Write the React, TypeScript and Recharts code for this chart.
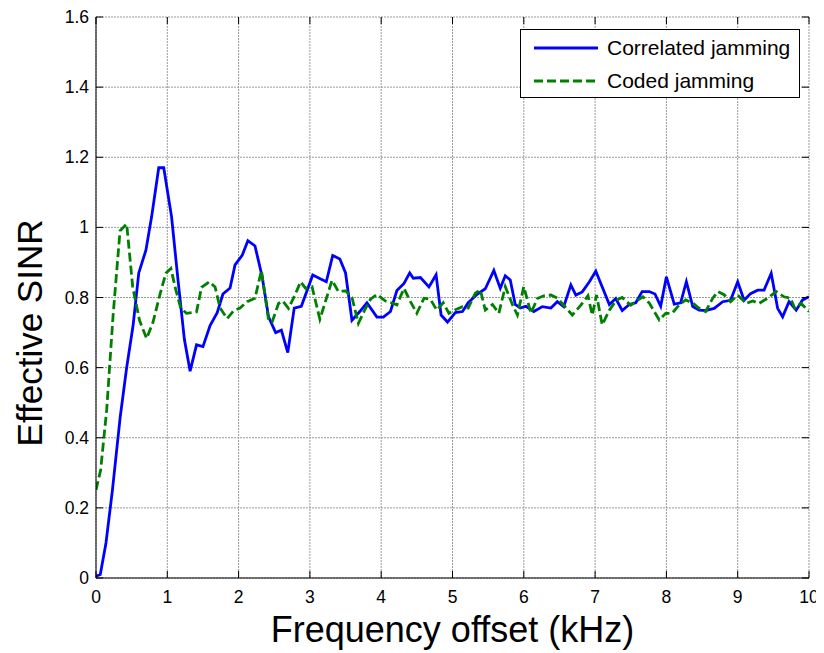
import { LineChart, Line, XAxis, YAxis, CartesianGrid } from "recharts";

// 曲線の頂点（周波数 kHz）と実効SINR
const corrFreq = [
  0, 0.06, 0.14, 0.23, 0.34, 0.43, 0.52, 0.6, 0.7, 0.78, 0.88, 0.95, 1.06, 1.15, 1.24, 1.32, 1.41, 1.5,
  1.6, 1.7, 1.78, 1.88, 1.95, 2.05, 2.13, 2.23, 2.33, 2.42, 2.52, 2.6, 2.69, 2.78, 2.88, 3.04, 3.13,
  3.23, 3.32, 3.42, 3.5, 3.59, 3.7, 3.8, 3.94, 4.03, 4.13, 4.22, 4.32, 4.4, 4.45, 4.55, 4.67, 4.77,
  4.84, 4.93, 5.04, 5.14, 5.22, 5.35, 5.46, 5.58, 5.67, 5.74, 5.81, 5.88, 5.95, 6.03, 6.14, 6.26,
  6.38, 6.47, 6.56, 6.66, 6.73, 6.82, 6.92, 7.01, 7.1, 7.2, 7.29, 7.38, 7.48, 7.57, 7.66, 7.76, 7.84,
  7.92, 8.0, 8.11, 8.2, 8.28, 8.37, 8.46, 8.55, 8.67, 8.79, 8.9, 9.0, 9.09, 9.18, 9.28, 9.37, 9.47,
  9.56, 9.63, 9.72, 9.82, 9.91, 10.0,
];
const corrSinr = [
  0.005, 0.01, 0.1, 0.25, 0.46, 0.6, 0.72, 0.87, 0.935, 1.03, 1.17, 1.17, 1.03, 0.85, 0.68, 0.59, 0.665,
  0.66, 0.72, 0.757, 0.81, 0.827, 0.893, 0.92, 0.962, 0.947, 0.86, 0.745, 0.7, 0.707, 0.643, 0.77,
  0.775, 0.864, 0.855, 0.845, 0.92, 0.91, 0.87, 0.735, 0.76, 0.785, 0.744, 0.744, 0.76, 0.82, 0.84,
  0.87, 0.855, 0.857, 0.83, 0.865, 0.75, 0.73, 0.757, 0.76, 0.785, 0.81, 0.825, 0.877, 0.826, 0.862,
  0.85, 0.78, 0.77, 0.775, 0.76, 0.774, 0.77, 0.788, 0.774, 0.836, 0.807, 0.816, 0.845, 0.875, 0.83,
  0.78, 0.797, 0.763, 0.78, 0.785, 0.817, 0.817, 0.81, 0.775, 0.859, 0.781, 0.785, 0.845, 0.774,
  0.764, 0.763, 0.769, 0.788, 0.792, 0.845, 0.792, 0.811, 0.821, 0.821, 0.869, 0.769, 0.745, 0.788,
  0.764, 0.793, 0.802,
];

const codedFreq = [
  0, 0.065, 0.15, 0.24, 0.337, 0.43, 0.515, 0.61, 0.71, 0.8, 0.9, 0.98, 1.05, 1.12, 1.19, 1.27, 1.41,
  1.48, 1.59, 1.67, 1.74, 1.84, 1.93, 2.02, 2.12, 2.23, 2.32, 2.42, 2.47, 2.56, 2.62, 2.7, 2.79, 2.87,
  2.94, 3.03, 3.14, 3.22, 3.31, 3.4, 3.5, 3.59, 3.68, 3.77, 3.85, 3.94, 4.06, 4.14, 4.22, 4.32, 4.41,
  4.5, 4.6, 4.69, 4.78, 4.87, 4.95, 5.04, 5.14, 5.22, 5.32, 5.39, 5.46, 5.56, 5.65, 5.74, 5.84, 5.91,
  6.0, 6.1, 6.19, 6.28, 6.38, 6.47, 6.56, 6.68, 6.8, 6.9, 6.96, 7.02, 7.1, 7.2, 7.3, 7.38, 7.5, 7.58,
  7.67, 7.76, 7.9, 7.99, 8.08, 8.18, 8.27, 8.37, 8.46, 8.55, 8.65, 8.72, 8.81, 8.9, 9.0, 9.12, 9.21,
  9.3, 9.42, 9.54, 9.65, 9.74, 9.8, 9.89, 10.0,
];
const codedSinr = [
  0.251, 0.308, 0.48, 0.75, 0.99, 1.01, 0.83, 0.735, 0.683, 0.73, 0.811, 0.869, 0.883, 0.821, 0.769,
  0.755, 0.759, 0.829, 0.845, 0.83, 0.77, 0.74, 0.762, 0.77, 0.788, 0.798, 0.877, 0.736, 0.73, 0.783,
  0.79, 0.769, 0.807, 0.845, 0.826, 0.831, 0.738, 0.79, 0.849, 0.817, 0.819, 0.8, 0.726, 0.765, 0.795,
  0.809, 0.79, 0.785, 0.779, 0.826, 0.788, 0.755, 0.798, 0.795, 0.764, 0.785, 0.755, 0.765, 0.774,
  0.77, 0.812, 0.822, 0.764, 0.78, 0.755, 0.831, 0.78, 0.75, 0.831, 0.755, 0.797, 0.805, 0.807, 0.798,
  0.778, 0.75, 0.778, 0.805, 0.75, 0.807, 0.722, 0.764, 0.793, 0.8, 0.778, 0.79, 0.802, 0.784, 0.736,
  0.755, 0.755, 0.779, 0.793, 0.784, 0.769, 0.76, 0.798, 0.817, 0.808, 0.788, 0.807, 0.783, 0.79,
  0.783, 0.798, 0.817, 0.802, 0.798, 0.77, 0.783, 0.76,
];

const xTicks = [0, 1, 2, 3, 4, 5, 6, 7, 8, 9, 10];
const yTicks = [0, 0.2, 0.4, 0.6, 0.8, 1, 1.2, 1.4, 1.6];

const corrData = corrFreq.map((f, i) => ({ f, v: corrSinr[i] }));
const codedData = codedFreq.map((f, i) => ({ f, v: codedSinr[i] }));

const FONT = "'Liberation Sans', Arial, sans-serif";
const W = 816;
const H = 645;
const M = { top: 9, right: 15, left: 0, bottom: 0 };
const YW = 88;
const XH = 75;
const PL = YW;
const PR = W - M.right;
const PT = M.top;
const PB = H - XH;
const TICK = 7;

function YTick({ y, payload }: any) {
  return (
    <g>
      <text x={PL - 7} y={y} dy={6} textAnchor="end" fontSize={17.5} fontFamily={FONT} fill="#000">
        {String(payload.value)}
      </text>
      <line x1={PL} x2={PL + TICK} y1={y} y2={y} stroke="#000" />
      <line x1={PR - TICK} x2={PR} y1={y} y2={y} stroke="#000" />
    </g>
  );
}

function XTick({ x, payload }: any) {
  return (
    <g>
      <text x={x} y={PB + 25} textAnchor="middle" fontSize={17.5} fontFamily={FONT} fill="#000">
        {String(payload.value)}
      </text>
      <line x1={x} x2={x} y1={PB} y2={PB - TICK} stroke="#000" />
      <line x1={x} x2={x} y1={PT} y2={PT + TICK} stroke="#000" />
    </g>
  );
}

function LegendBox() {
  const rows = [
    { name: "Correlated jamming", color: "#0000ff", dash: undefined },
    { name: "Coded jamming", color: "#008000", dash: "9 4" },
  ];
  return (
    <div
      style={{
        position: "absolute",
        left: 512,
        top: 21,
        width: 278,
        height: 67,
        border: "1px solid #000",
        background: "#fff",
        fontFamily: FONT,
        fontSize: 21,
      }}
    >
      {rows.map((r, i) => (
        <div
          key={r.name}
          style={{ position: "absolute", left: 12, top: 6 + i * 33, height: 24, display: "flex", alignItems: "center" }}
        >
          <svg width={66} height={10}>
            <line x1={1} x2={65} y1={5} y2={5} stroke={r.color} strokeWidth={2.8} strokeDasharray={r.dash} />
          </svg>
          <span style={{ marginLeft: 8, color: "#000", whiteSpace: "nowrap" }}>{r.name}</span>
        </div>
      ))}
    </div>
  );
}

export default function App() {
  return (
    <div style={{ position: "relative", width: W, height: H, background: "#fff" }}>
      <LineChart width={W} height={H} margin={M}>
        <CartesianGrid stroke="#999" strokeDasharray="2 1" />
        <XAxis
          dataKey="f"
          type="number"
          domain={[0, 10]}
          ticks={xTicks}
          height={XH}
          tick={<XTick />}
          tickLine={false}
          axisLine={{ stroke: "#000" }}
          allowDataOverflow
        />
        <XAxis xAxisId="top" orientation="top" type="number" domain={[0, 10]} height={0} tick={false} tickLine={false} axisLine={{ stroke: "#000" }} />
        <YAxis
          type="number"
          domain={[0, 1.6]}
          ticks={yTicks}
          width={YW}
          tick={<YTick />}
          tickLine={false}
          axisLine={{ stroke: "#000" }}
          allowDataOverflow
        />
        <YAxis yAxisId="right" orientation="right" type="number" domain={[0, 1.6]} width={0} tick={false} tickLine={false} axisLine={{ stroke: "#000" }} />
        <Line
          data={corrData}
          dataKey="v"
          type="linear"
          stroke="#0000ff"
          strokeWidth={2.8}
          dot={false}
          isAnimationActive={false}
        />
        <Line
          data={codedData}
          dataKey="v"
          type="linear"
          stroke="#008000"
          strokeWidth={2.8}
          strokeDasharray="9 4"
          dot={false}
          isAnimationActive={false}
        />
      </LineChart>
      <LegendBox />
      <div
        style={{
          position: "absolute",
          left: PL,
          width: PR - PL,
          top: 602,
          textAlign: "center",
          fontFamily: FONT,
          fontSize: 36,
          lineHeight: "40px",
          color: "#000",
        }}
      >
        Frequency offset (kHz)
      </div>
      <div
        style={{
          position: "absolute",
          left: 22,
          top: 325,
          transform: "translate(-50%, -50%) rotate(-90deg)",
          whiteSpace: "nowrap",
          fontFamily: FONT,
          fontSize: 35,
          lineHeight: "40px",
          color: "#000",
        }}
      >
        Effective SINR
      </div>
    </div>
  );
}
